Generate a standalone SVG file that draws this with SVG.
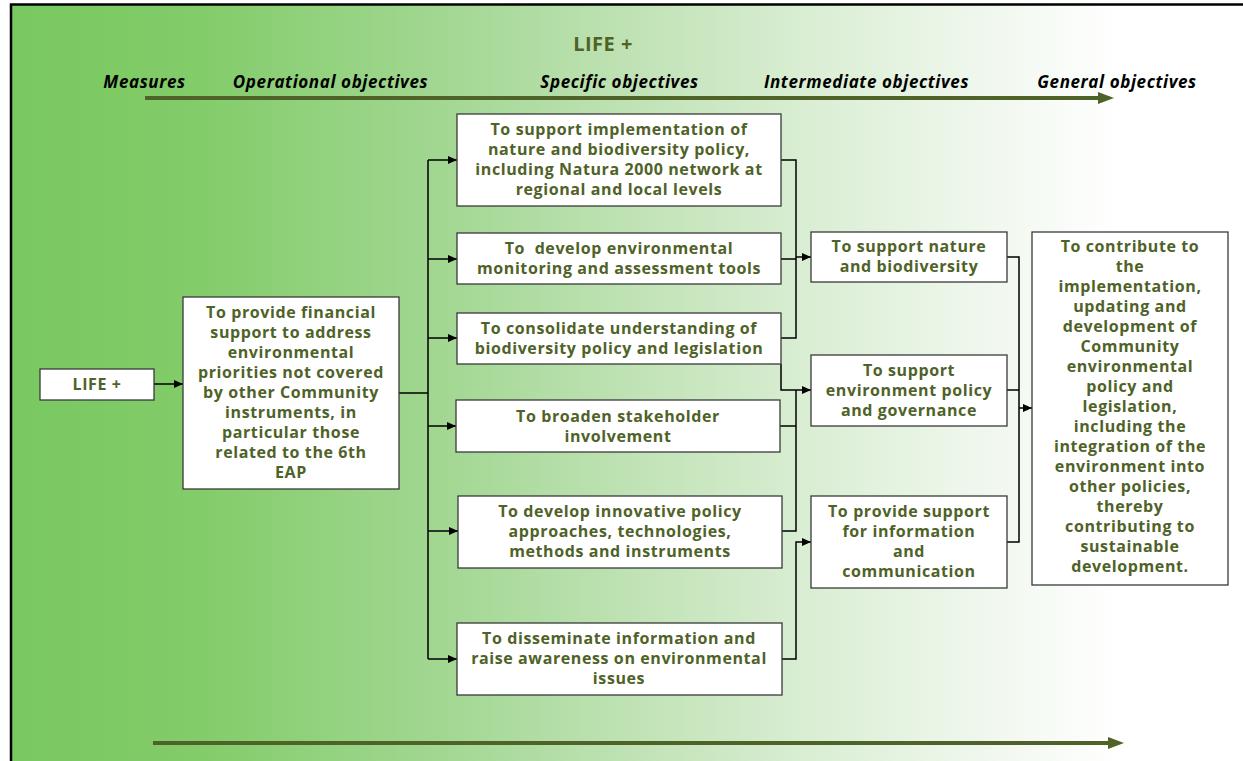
<svg xmlns="http://www.w3.org/2000/svg" width="1243" height="761" viewBox="0 0 1243 761">
<defs>
<linearGradient id="bg" x1="10" y1="0" x2="1243" y2="0" gradientUnits="userSpaceOnUse">
<stop offset="0" stop-color="#79C860"/>
<stop offset="0.15" stop-color="#82CC69"/>
<stop offset="0.35" stop-color="#A2D792"/>
<stop offset="0.5" stop-color="#BFE2B4"/>
<stop offset="0.65" stop-color="#DAEED4"/>
<stop offset="0.8" stop-color="#F1F8EF"/>
<stop offset="0.9" stop-color="#FFFFFF"/>
<stop offset="1" stop-color="#FFFFFF"/>
</linearGradient>
<marker id="ah" markerUnits="userSpaceOnUse" markerWidth="9" markerHeight="8" refX="9" refY="4" orient="auto">
<path d="M0,0 L9,4 L0,8 z" fill="#000"/>
</marker>
<style>
.box{fill:#fff;stroke:#3a3a3a;stroke-width:1.3}
.t{font-family:"Open Sans","DejaVu Sans",sans-serif;font-weight:bold;font-size:16px;letter-spacing:0.6px;fill:#4F6228;text-anchor:middle}
.h{font-family:"Open Sans","DejaVu Sans",sans-serif;font-weight:bold;font-style:italic;font-size:17px;letter-spacing:0.6px;fill:#000;text-anchor:middle}
.c{fill:none;stroke:#000;stroke-width:1.5}
.ca{fill:none;stroke:#000;stroke-width:1.5;marker-end:url(#ah)}
</style>
</defs>
<rect x="10" y="4" width="1233" height="757" fill="url(#bg)"/>
<path d="M11,761 V4.5 H1243" fill="none" stroke="#000" stroke-width="2.5"/>

<g id="header">
<text x="603" y="51" class="t" style="font-size:20px;letter-spacing:0.5px">LIFE +</text>
<text x="144.5" y="88" class="h">Measures</text>
<text x="330.5" y="88" class="h">Operational objectives</text>
<text x="619.5" y="88" class="h">Specific objectives</text>
<text x="866.5" y="88" class="h">Intermediate objectives</text>
<text x="1117" y="88" class="h">General objectives</text>
<path d="M145,98 H1100" stroke="#4F6228" stroke-width="4"/>
<polygon points="1098,92 1114,98 1098,104" fill="#4F6228"/>
<path d="M153,743 H1110" stroke="#4F6228" stroke-width="4"/>
<polygon points="1108,737 1124,743 1108,749" fill="#4F6228"/>
</g>

<g id="connectors">
<path class="ca" d="M154,384 H183"/>
<path class="c" d="M399,393 H428 M428,160 V659"/>
<path class="ca" d="M428,160 H457"/>
<path class="ca" d="M428,259 H457"/>
<path class="ca" d="M428,338 H457"/>
<path class="ca" d="M428,426 H456"/>
<path class="ca" d="M428,531 H458"/>
<path class="ca" d="M428,659 H457"/>
<path class="c" d="M781,160 H796 V338 H781 M781,259 H796"/>
<path class="ca" d="M796,257 H811"/>
<path class="ca" d="M781,364 V390 H811"/>
<path class="c" d="M780,426 H796 M782,531 H796 V390"/>
<path class="ca" d="M782,659 H796 V542 H811"/>
<path class="c" d="M1007,257 H1019 V542 H1007 M1007,390 H1019"/>
<path class="ca" d="M1019,408 H1032"/>
</g>

<g id="n-life">
<rect class="box" x="40" y="369" width="114" height="31"/>
<text class="t" x="97" y="390">LIFE +</text>
</g>

<g id="n-op">
<rect class="box" x="183" y="297" width="216" height="192"/>
<text class="t" x="291" y="318">To provide financial</text>
<text class="t" x="291" y="338">support to address</text>
<text class="t" x="291" y="358">environmental</text>
<text class="t" x="291" y="378">priorities not covered</text>
<text class="t" x="291" y="398">by other Community</text>
<text class="t" x="291" y="418">instruments, in</text>
<text class="t" x="291" y="438">particular those</text>
<text class="t" x="291" y="458">related to the 6th</text>
<text class="t" x="291" y="478">EAP</text>
</g>

<g id="n-s1">
<rect class="box" x="457" y="114" width="324" height="92"/>
<text class="t" x="619" y="135">To support implementation of</text>
<text class="t" x="619" y="155">nature and biodiversity policy,</text>
<text class="t" x="619" y="175">including Natura 2000 network at</text>
<text class="t" x="619" y="195">regional and local levels</text>
</g>

<g id="n-s2">
<rect class="box" x="457" y="233" width="324" height="51"/>
<text class="t" x="619" y="254" xml:space="preserve">To  develop environmental</text>
<text class="t" x="619" y="274">monitoring and assessment tools</text>
</g>

<g id="n-s3">
<rect class="box" x="457" y="313" width="324" height="51"/>
<text class="t" x="619" y="334">To consolidate understanding of</text>
<text class="t" x="619" y="354">biodiversity policy and legislation</text>
</g>

<g id="n-s4">
<rect class="box" x="456" y="400" width="324" height="52"/>
<text class="t" x="618" y="422">To broaden stakeholder</text>
<text class="t" x="618" y="442">involvement</text>
</g>

<g id="n-s5">
<rect class="box" x="458" y="496" width="324" height="72"/>
<text class="t" x="620" y="517">To develop innovative policy</text>
<text class="t" x="620" y="537">approaches, technologies,</text>
<text class="t" x="620" y="557">methods and instruments</text>
</g>

<g id="n-s6">
<rect class="box" x="457" y="623" width="325" height="72"/>
<text class="t" x="619" y="644">To disseminate information and</text>
<text class="t" x="619" y="664">raise awareness on environmental</text>
<text class="t" x="619" y="684">issues</text>
</g>

<g id="n-i1">
<rect class="box" x="811" y="232" width="196" height="50"/>
<text class="t" x="909" y="252">To support nature</text>
<text class="t" x="909" y="272">and biodiversity</text>
</g>

<g id="n-i2">
<rect class="box" x="811" y="355" width="196" height="71"/>
<text class="t" x="909" y="376">To support</text>
<text class="t" x="909" y="396">environment policy</text>
<text class="t" x="909" y="416">and governance</text>
</g>

<g id="n-i3">
<rect class="box" x="811" y="496" width="196" height="92"/>
<text class="t" x="909" y="517">To provide support</text>
<text class="t" x="909" y="537">for information</text>
<text class="t" x="909" y="557">and</text>
<text class="t" x="909" y="577">communication</text>
</g>

<g id="n-gen">
<rect class="box" x="1032" y="232" width="196" height="353"/>
<text class="t" x="1130" y="252">To contribute to</text>
<text class="t" x="1130" y="272">the</text>
<text class="t" x="1130" y="292">implementation,</text>
<text class="t" x="1130" y="312">updating and</text>
<text class="t" x="1130" y="332">development of</text>
<text class="t" x="1130" y="352">Community</text>
<text class="t" x="1130" y="372">environmental</text>
<text class="t" x="1130" y="392">policy and</text>
<text class="t" x="1130" y="412">legislation,</text>
<text class="t" x="1130" y="432">including the</text>
<text class="t" x="1130" y="452">integration of the</text>
<text class="t" x="1130" y="472">environment into</text>
<text class="t" x="1130" y="492">other policies,</text>
<text class="t" x="1130" y="512">thereby</text>
<text class="t" x="1130" y="532">contributing to</text>
<text class="t" x="1130" y="552">sustainable</text>
<text class="t" x="1130" y="572">development.</text>
</g>
</svg>
